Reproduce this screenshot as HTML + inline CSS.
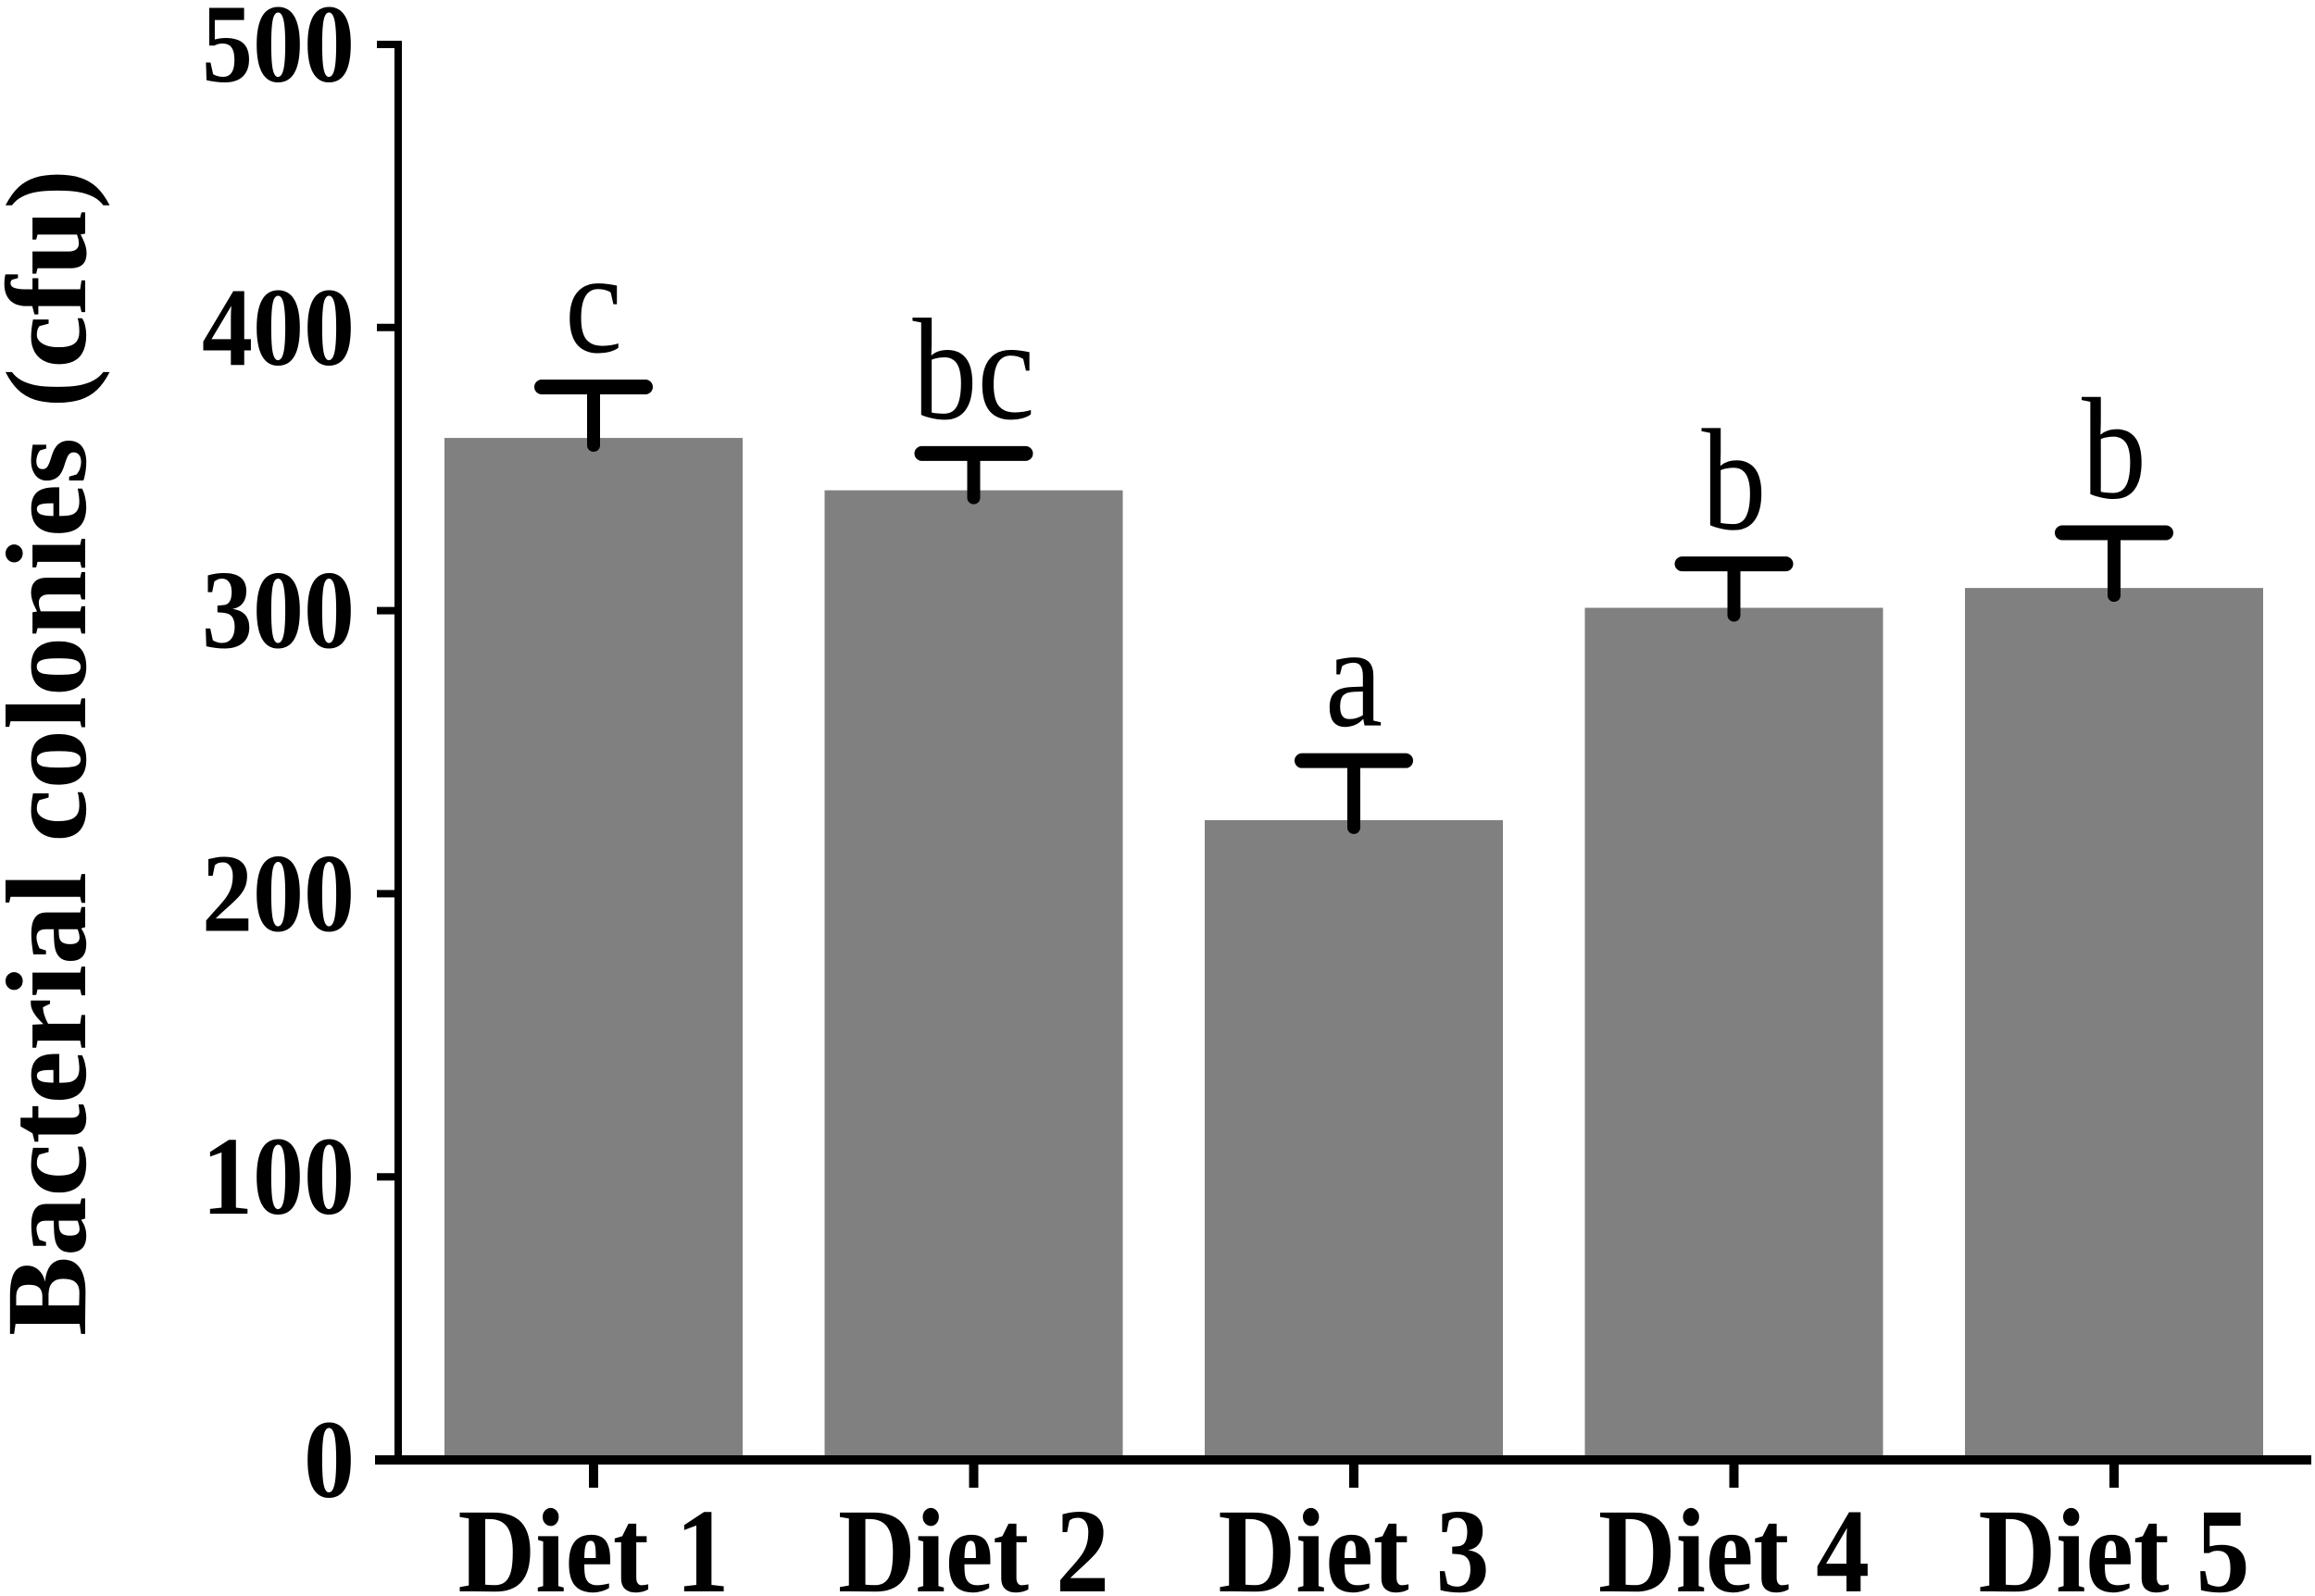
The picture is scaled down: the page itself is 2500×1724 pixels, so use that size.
<!DOCTYPE html>
<html><head><meta charset="utf-8"><style>
html,body{margin:0;padding:0;background:#fff;}
svg{display:block;}
text{font-family:"Liberation Serif",serif;font-weight:bold;fill:#000;}
</style></head><body>
<svg id="chart" width="2500" height="1724" viewBox="0 0 2500 1724" xmlns="http://www.w3.org/2000/svg">
<text transform="translate(92,813) rotate(-90)" text-anchor="middle" font-size="124" textLength="1260" lengthAdjust="spacingAndGlyphs">Bacterial colonies (cfu)</text>
<g id="plot"></g>
</svg>
<script>
const categories = ["Diet 1","Diet 2","Diet 3","Diet 4","Diet 5"];
const means = [361, 342.5, 226, 301, 308];
const errors = [18, 13, 21, 15.5, 19.5];
const letters = ["c","bc","a","b","b"];
const yTicks = [0,100,200,300,400,500];

const NS = "http://www.w3.org/2000/svg";
const g = document.getElementById("plot");
const x0 = 641, step = 410.5, barW = 322;
const yBase = 1577, yTop = 48, yMax = 500;
function xPos(i){ return x0 + i*step; }
function yPos(v){ return yBase - v/yMax*(yBase-yTop); }
function mk(tag, attrs){ const e=document.createElementNS(NS,tag); for(const k in attrs) e.setAttribute(k,attrs[k]); g.appendChild(e); return e; }

categories.forEach((c,i)=>{
  const cx = xPos(i);
  const top = yPos(means[i]);
  const bar = mk("rect",{x:cx-barW/2,y:top,width:barW,height:yBase-top,fill:"#808080"});
  
  
  const et = yPos(means[i]+errors[i]);
  const stem = mk("line",{x1:cx,x2:cx,y1:top+8,y2:et,stroke:"#000","stroke-width":14,"stroke-linecap":"round"});
  
  
  const cap = mk("line",{x1:cx-56,x2:cx+56,y1:et,y2:et,stroke:"#000","stroke-width":16,"stroke-linecap":"round"});
  
  
  const lt = mk("text",{x:0,y:0,"text-anchor":"middle","font-size":140,transform:"translate("+cx+","+(et-38)+") scale(1,1.12)"});
  lt.textContent = letters[i];
  lt.style.fontWeight = "normal";
  
  
  const tk = mk("line",{x1:cx,x2:cx,y1:yBase,y2:1607,stroke:"#000","stroke-width":10});
  
  
  const lb = mk("text",{x:0,y:0,"text-anchor":"middle","font-size":116,transform:"translate("+cx+",1719) scale(1,1.12)"});
  lb.textContent = c;
  
  
});

yTicks.forEach(v=>{
  const y = yPos(v);
  const t = mk("line",{x1:407,x2:432,y1:y,y2:y,stroke:"#000","stroke-width":8});
  
  
  const l = mk("text",{x:0,y:0,"text-anchor":"end","font-size":110,transform:"translate(383,"+(y+40)+") scale(1,1.1)"});
  l.textContent = v;
  
  
});

const ya = mk("line",{x1:430,x2:430,y1:yTop-4,y2:yBase+5,stroke:"#000","stroke-width":8});


const xa = mk("line",{x1:405,x2:2496,y1:yBase,y2:yBase,stroke:"#000","stroke-width":10});


</script>
</body></html>
